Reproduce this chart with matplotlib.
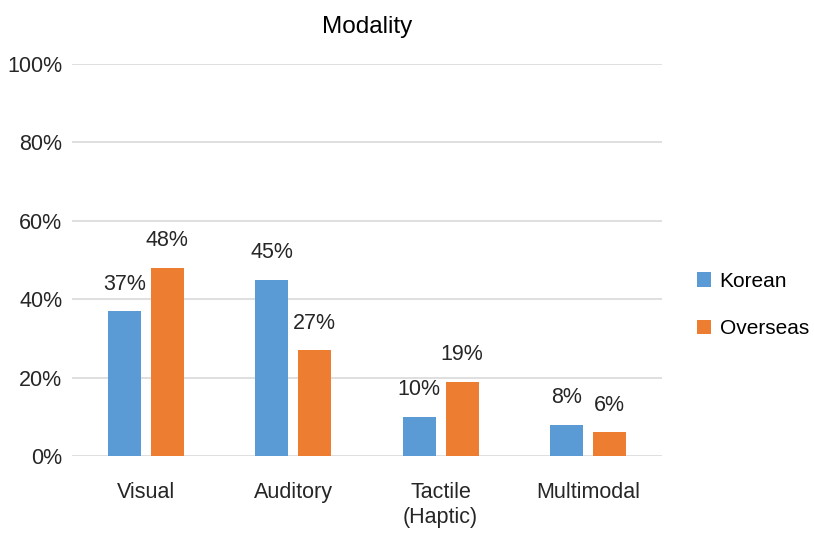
import matplotlib.pyplot as plt
import numpy as np

categories = ['Visual', 'Auditory', 'Tactile\n(Haptic)', 'Multimodal']
korean = [37, 45, 10, 8]
overseas = [48, 27, 19, 6]
yticks = [0, 20, 40, 60, 80, 100]

plt.rcParams['font.family'] = ['Liberation Sans', 'DejaVu Sans']

fig = plt.figure(figsize=(8.14, 5.38), dpi=100)
ax = fig.add_axes([0.0885, 0.1524, 0.7245, 0.7286])

x = np.arange(len(categories))
w = 0.224
off = 0.146
blue = '#5B9BD5'
orange = '#ED7D31'
fs = 15.5

b1 = ax.bar(x - off, korean, w, color=blue, label='Korean', zorder=3)
b2 = ax.bar(x + off, overseas, w, color=orange, label='Overseas', zorder=3)

for bars, vals in ((b1, korean), (b2, overseas)):
    for bar, v in zip(bars, vals):
        ax.text(bar.get_x() + bar.get_width() / 2, v + 4.2, f'{v}%',
                ha='center', va='bottom', fontsize=fs, color='#262626')

ax.set_xlim(-0.5, len(categories) - 0.5)
ax.set_ylim(0, 100)
ax.set_yticks(yticks)
ax.set_yticklabels([f'{t}%' for t in yticks], fontsize=fs, color='#262626')
ax.set_xticks(x)
ax.set_xticklabels(categories, fontsize=fs, color='#262626', va='top')
ax.tick_params(axis='x', length=0, pad=19)
ax.tick_params(axis='y', length=0, pad=7)
ax.grid(axis='y', color='#d9d9d9', linewidth=1.2, zorder=0)
for s in ax.spines.values():
    s.set_visible(False)

ax.set_title('Modality', fontsize=17.5, color='#000000', pad=22)

ax.legend(loc='center left', bbox_to_anchor=(1.045, 0.385), frameon=False,
          fontsize=15, handlelength=0.7, handleheight=0.7,
          labelspacing=1.35, handletextpad=0.4, borderaxespad=0)

fig.savefig('out.png', dpi=100)
